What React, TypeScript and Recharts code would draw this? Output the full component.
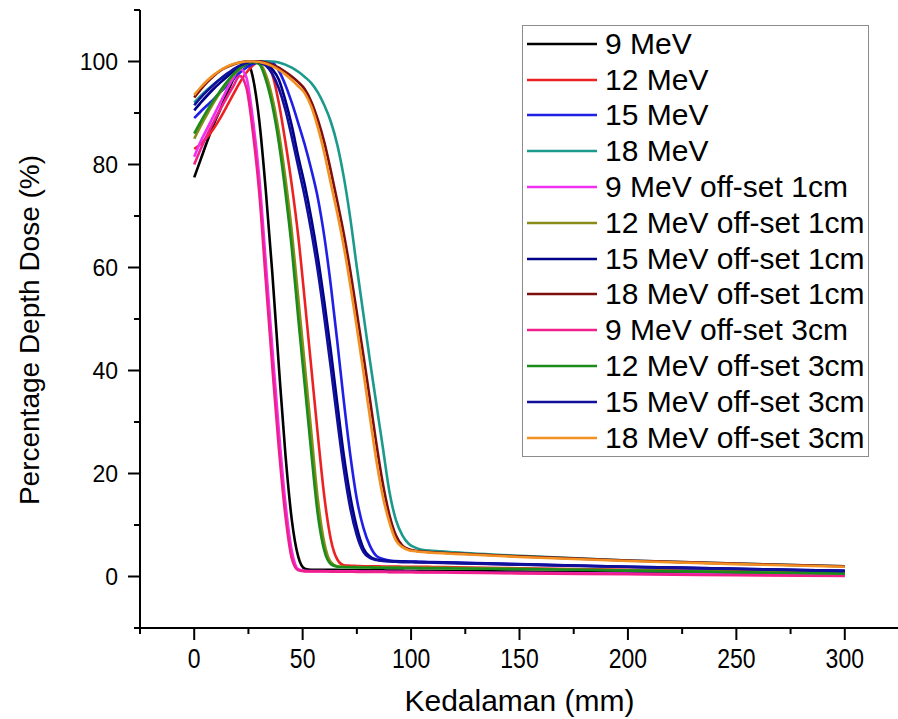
import { LineChart, Line, XAxis, YAxis, Legend } from 'recharts'

// depth grid (mm), shared by every series
const depth = [
  0, 3, 6, 9, 12, 15, 18, 21, 24, 27, 30, 33, 36, 39, 42, 45, 48, 51, 54, 57, 60, 63, 66, 69,
  72, 75, 78, 81, 84, 87, 90, 93, 96, 99, 102, 105, 110, 120, 150, 200, 250, 300,
]

const mev9 = [
  77.5, 81, 84.5, 87.8, 90.7, 93.7, 96.5, 98.8,
  100, 97, 88.5, 75, 59, 41, 24, 11,
  3.8, 1.5, 1.3, 1.3, 1.3, 1.3, 1.3, 1.25,
  1.25, 1.2, 1.2, 1.2, 1.2, 1.2, 1.15, 1.15,
  1.15, 1.1, 1.1, 1.1,
  1.1, 1.05, 0.95, 0.8, 0.6, 0.4,
]
const mev12 = [
  83, 84, 85.3, 87, 89, 91.3, 93.6, 95.9,
  97.8, 99.2, 100, 99.6, 97.5, 92, 84.5, 76,
  66, 53.5, 40.5, 27.5, 15.5, 7.2, 3.3, 2.2,
  2.1, 2.05, 2.0, 2.0, 2.0, 1.95, 1.95, 1.95,
  1.9, 1.9, 1.9, 1.9,
  1.85, 1.8, 1.6, 1.3, 1.0, 0.8,
]
const mev15 = [
  89, 90.3, 91.5, 92.7, 94, 95.3, 96.6, 97.8,
  98.8, 99.5, 99.8, 100, 99.8, 98.2, 95.5, 92,
  88, 83.8, 79, 73.5, 66, 56.5, 45.5, 34,
  23.5, 15, 9.5, 6, 4, 3.4, 3.1, 3.0,
  2.95, 2.9, 2.9, 2.85,
  2.8, 2.7, 2.4, 1.9, 1.5, 1.1,
]
const mev18 = [
  92, 93.3, 94.5, 95.6, 96.6, 97.5, 98.3, 99,
  99.5, 99.8, 100, 100, 100, 99.8, 99.4, 98.8,
  98.0, 97.0, 95.8, 94.0, 91.5, 88.3, 83.8, 77.5,
  69.5, 60, 51, 42, 33.5, 25, 16.5, 11,
  8, 6.3, 5.6, 5.2,
  5.0, 4.7, 4.0, 3.1, 2.5, 2.0,
]
const mev9off1 = [
  81.5, 84.5, 87, 89.5, 92, 94.5, 96.8, 98.6,
  97, 89, 77.5, 61, 44.5, 28.5, 14.5, 5,
  1.4, 1.1, 1.05, 1.05, 1.05, 1.0, 1.0, 1.0,
  1.0, 1.0, 0.95, 0.95, 0.95, 0.95, 0.9, 0.9,
  0.9, 0.9, 0.9, 0.85,
  0.85, 0.8, 0.7, 0.55, 0.4, 0.2,
]
const mev12off1 = [
  85, 87.5, 89.8, 92, 94, 95.8, 97.3, 98.6,
  99.4, 99.9, 99.7, 97.5, 93, 86.3, 77.5, 67,
  54, 41, 28, 15, 6.5, 2.8, 2.0, 1.9,
  1.85, 1.85, 1.8, 1.8, 1.8, 1.8, 1.75, 1.75,
  1.75, 1.7, 1.7, 1.7,
  1.7, 1.65, 1.5, 1.2, 0.9, 0.6,
]
const mev15off1 = [
  90.5, 92, 93.4, 94.7, 95.9, 97, 98, 98.8,
  99.4, 99.8, 100, 99.7, 98.5, 96.5, 92.5, 87.5,
  81.5, 76, 69.5, 62, 53.3, 43.8, 33.5, 23.5,
  15.5, 9.5, 5.5, 3.9, 3.3, 3.1, 3.0, 2.95,
  2.9, 2.85, 2.85, 2.8,
  2.75, 2.65, 2.35, 1.9, 1.5, 1.1,
]
const mev18off1 = [
  93, 94.6, 96, 97.2, 98.2, 98.9, 99.4, 99.8,
  100, 100, 100, 99.8, 99.4, 98.8, 98, 97.1,
  96, 94.6, 92.2, 88.7, 84.3, 78.8, 72.8, 66.5,
  59.3, 51.2, 43, 34.5, 25.8, 18, 12, 8,
  6, 5.3, 5.0, 4.85,
  4.7, 4.5, 3.9, 3.1, 2.5, 2.0,
]
const mev9off3 = [
  80, 83, 85.8, 88.3, 90.7, 93, 95.2, 97.2,
  95, 86.5, 74.5, 57.5, 40.8, 25, 12, 3.5,
  1.2, 1.0, 1.0, 1.0, 1.0, 0.95, 0.95, 0.95,
  0.95, 0.9, 0.9, 0.9, 0.9, 0.9, 0.85, 0.85,
  0.85, 0.85, 0.8, 0.8,
  0.8, 0.75, 0.6, 0.45, 0.25, 0.1,
]
const mev12off3 = [
  86, 88.3, 90.5, 92.5, 94.3, 96, 97.5, 98.7,
  99.5, 99.9, 99.5, 96.5, 91.5, 84.3, 74.8, 63.7,
  50, 37, 24, 12, 5, 2.4, 1.9, 1.8,
  1.8, 1.75, 1.75, 1.75, 1.7, 1.7, 1.7, 1.7,
  1.65, 1.65, 1.65, 1.6,
  1.6, 1.55, 1.45, 1.15, 0.85, 0.55,
]
const mev15off3 = [
  91.5, 93, 94.3, 95.5, 96.6, 97.6, 98.5, 99.2,
  99.7, 100, 99.8, 99.2, 97.6, 94.8, 90.7, 85.3,
  79.5, 73.7, 67, 59.3, 50.3, 40.5, 30.3, 20.8,
  13.2, 8, 4.8, 3.6, 3.2, 3.0, 2.9, 2.85,
  2.8, 2.8, 2.75, 2.75,
  2.7, 2.6, 2.3, 1.85, 1.45, 1.05,
]
const mev18off3 = [
  93.5, 95, 96.3, 97.4, 98.3, 99, 99.5, 99.8,
  100, 100, 99.9, 99.6, 99.1, 98.4, 97.5, 96.4,
  95.2, 93.8, 91.2, 87.2, 82.2, 76.3, 70.5, 64,
  56.5, 48.3, 39.8, 31, 22.5, 15.5, 10.5, 7,
  5.7, 5.1, 4.9, 4.75,
  4.6, 4.4, 3.8, 3.0, 2.4, 1.9,
]

const seriesNames = [
  '9 MeV', '12 MeV', '15 MeV', '18 MeV',
  '9 MeV off-set 1cm', '12 MeV off-set 1cm', '15 MeV off-set 1cm', '18 MeV off-set 1cm',
  '9 MeV off-set 3cm', '12 MeV off-set 3cm', '15 MeV off-set 3cm', '18 MeV off-set 3cm',
]
const seriesValues = [
  mev9, mev12, mev15, mev18,
  mev9off1, mev12off1, mev15off1, mev18off1,
  mev9off3, mev12off3, mev15off3, mev18off3,
]
const seriesColors = [
  '#000000', '#ec2222', '#1f1fe6', '#1b9a8c',
  '#f030f0', '#8b8b1a', '#000088', '#7d0f0f',
  '#f0208a', '#1a8c1a', '#10109a', '#f39023',
]

const xTicks = [-25, 0, 25, 50, 75, 100, 125, 150, 175, 200, 225, 250, 275, 300, 325]
const yTicks = [-10, 0, 10, 20, 30, 40, 50, 60, 70, 80, 90, 100, 110]

const FONT = '"Liberation Sans", Arial, sans-serif'

const data = depth.map((d, i) => {
  const row: Record<string, number> = { depth: d }
  seriesValues.forEach((vals, s) => {
    row[`s${s}`] = vals[i]
  })
  return row
})

function XTick({ x, y, payload }: any) {
  const major = payload.value % 50 === 0
  return (
    <g>
      <line x1={x} y1={y} x2={x} y2={y + (major ? 12 : 6)} stroke="#000" strokeWidth={2} />
      {major && (
        <text
          transform={`translate(${x},${y + 40}) scale(1,1.2)`}
          textAnchor="middle"
          fontSize={23}
          fontFamily={FONT}
          fill="#000"
        >
          {payload.value}
        </text>
      )}
    </g>
  )
}

function YTick({ x, y, payload }: any) {
  const major = payload.value % 20 === 0
  return (
    <g>
      <line x1={x - (major ? 12 : 6)} y1={y} x2={x} y2={y} stroke="#000" strokeWidth={2} />
      {major && (
        <text x={x - 22} y={y + 8} textAnchor="end" fontSize={23} fontFamily={FONT} fill="#000">
          {payload.value}
        </text>
      )}
    </g>
  )
}

function LegendBox({ payload }: any) {
  // keep the plotting order, not the alphabetical one
  const items = [...(payload || [])].sort(
    (a: any, b: any) => seriesNames.indexOf(a.value) - seriesNames.indexOf(b.value)
  )
  return (
    <div
      style={{
        border: '1.5px solid #8c8c8c',
        background: '#fff',
        width: 347,
        boxSizing: 'border-box',
        fontFamily: FONT,
      }}
    >
      {items.map((item: any) => (
        <div key={item.value} style={{ display: 'flex', alignItems: 'center', height: 35.8 }}>
          <svg width={70} height={6} style={{ marginLeft: 4, display: 'block' }}>
            <line x1={0} y1={3} x2={70} y2={3} stroke={item.color} strokeWidth={2.5} />
          </svg>
          <span style={{ marginLeft: 8, fontSize: 30, color: '#000', whiteSpace: 'nowrap' }}>
            {item.value}
          </span>
        </div>
      ))}
    </div>
  )
}

export default function App() {
  return (
    <div
      style={{
        position: 'absolute',
        left: 0,
        top: 0,
        width: 898,
        height: 719,
        overflow: 'hidden',
        background: '#fff',
      }}
    >
      <LineChart width={900} height={719} data={data} margin={{ top: 10, right: 1, left: 0, bottom: 0 }}>
        <XAxis
          type="number"
          dataKey="depth"
          domain={[-25, 325]}
          ticks={xTicks}
          interval={0}
          height={91}
          tickSize={0}
          tickMargin={0}
          tickLine={false}
          axisLine={{ stroke: '#000', strokeWidth: 2 }}
          tick={<XTick />}
          label={{
            content: ({ viewBox }: any) => (
              <text
                x={viewBox.x + viewBox.width / 2}
                y={viewBox.y + 83}
                textAnchor="middle"
                fontSize={30}
                fontFamily={FONT}
                fill="#000"
              >
                Kedalaman (mm)
              </text>
            ),
          }}
        />
        <YAxis
          type="number"
          domain={[-10, 110]}
          ticks={yTicks}
          interval={0}
          width={140}
          tickSize={0}
          tickMargin={0}
          tickLine={false}
          axisLine={{ stroke: '#000', strokeWidth: 2 }}
          tick={<YTick />}
          label={{
            content: ({ viewBox }: any) => (
              <text
                transform={`translate(39,${viewBox.y + viewBox.height / 2 + 11}) rotate(-90)`}
                textAnchor="middle"
                fontSize={28}
                fontFamily={FONT}
                fill="#000"
              >
                Percentage Depth Dose (%)
              </text>
            ),
          }}
        />
        <Legend
          layout="horizontal"
          verticalAlign="middle"
          align="center"
          content={<LegendBox />}
          wrapperStyle={{ left: 522, top: 25, width: 'auto', height: 'auto' }}
        />
        {seriesNames.map((name, s) => (
          <Line
            key={name}
            name={name}
            type="monotone"
            dataKey={`s${s}`}
            stroke={seriesColors[s]}
            strokeWidth={2.6}
            dot={false}
            isAnimationActive={false}
          />
        ))}
      </LineChart>
    </div>
  )
}
